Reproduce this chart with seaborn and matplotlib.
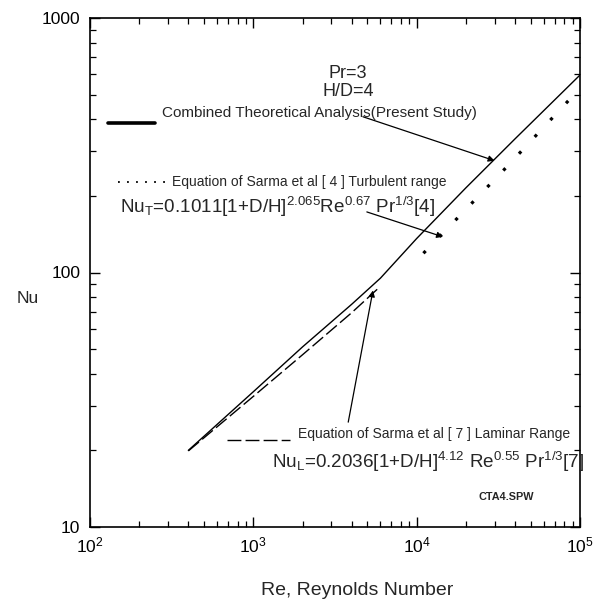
import matplotlib
matplotlib.use("Agg")
import matplotlib.pyplot as plt
from matplotlib.lines import Line2D
import seaborn as sns
import pandas as pd

# Combined theoretical analysis (present study)
re_combined = [400, 1000, 2000, 4000, 6000, 10000, 20000, 40000, 100000]
nu_combined = [20.0, 34.0, 51, 75, 95, 136, 215, 335, 597]

# Sarma et al [7], laminar range
re_laminar = [400, 1000, 2000, 4000, 5800]
nu_laminar = [19.9, 32.6, 47.5, 69.5, 86.5]

# Sarma et al [4], turbulent range
re_turbulent = [11000, 20000, 35000, 88000]
nu_turbulent = [119, 177, 257, 485]

x_ticks = [1e2, 1e3, 1e4, 1e5]
y_ticks = [10, 100, 1000]
y_tick_labels = ["10", "100", "1000"]

sns.set_style("ticks")
plt.rcParams["font.family"] = ["Liberation Sans", "DejaVu Sans"]
plt.rcParams["mathtext.fontset"] = "custom"
plt.rcParams["mathtext.rm"] = "Liberation Sans"
plt.rcParams["mathtext.it"] = "Liberation Sans:italic"
plt.rcParams["mathtext.bf"] = "Liberation Sans:bold"
plt.rcParams["mathtext.default"] = "regular"

fig = plt.figure(figsize=(6.07, 6.05), dpi=100)
ax = fig.add_axes([90 / 607, 1 - 527 / 605, 490 / 607, 509 / 605])

df_c = pd.DataFrame({"Re": re_combined, "Nu": nu_combined})
df_l = pd.DataFrame({"Re": re_laminar, "Nu": nu_laminar})
df_t = pd.DataFrame({"Re": re_turbulent, "Nu": nu_turbulent})

sns.lineplot(data=df_c, x="Re", y="Nu", ax=ax, color="black", lw=1.0, sort=False)
sns.lineplot(data=df_l, x="Re", y="Nu", ax=ax, color="black", lw=1.0, sort=False,
             linestyle=(0, (10, 3)))
sns.lineplot(data=df_t, x="Re", y="Nu", ax=ax, color="black", lw=2.3, sort=False,
             linestyle=(0, (1, 6.2)))

ax.set_xscale("log")
ax.set_yscale("log")
ax.set_xlim(1e2, 1e5)
ax.set_ylim(10, 1000)
ax.set_xticks(x_ticks)
ax.set_yticks(y_ticks)
ax.set_yticklabels(y_tick_labels)

ax.tick_params(which="both", direction="in", top=True, right=True, colors="black",
               labelsize=12.5)
ax.tick_params(which="major", length=7, width=1.0, pad=7)
ax.tick_params(which="minor", length=4, width=0.9)
ax.tick_params(axis="x", which="major", pad=6)
ax.yaxis.set_minor_formatter(matplotlib.ticker.NullFormatter())
ax.xaxis.set_minor_formatter(matplotlib.ticker.NullFormatter())
for s in ax.spines.values():
    s.set_linewidth(1.2)
    s.set_color("black")

ax.set_xlabel("Re, Reynolds Number", fontsize=14)
ax.xaxis.set_label_coords(0.545, -0.108)
ax.set_ylabel("Nu", fontsize=12.5, rotation=0, va="center")
ax.yaxis.set_label_coords(-0.127, 0.448)

tr = ax.transAxes
ax.text(0.527, 0.891, "Pr=3", transform=tr, ha="center", va="center", fontsize=13)
ax.text(0.527, 0.856, "H/D=4", transform=tr, ha="center", va="center", fontsize=13)

# legend-style samples with their captions
ax.add_line(Line2D([0.037, 0.133], [0.794, 0.794], transform=tr, color="black", lw=2.6))
ax.text(0.147, 0.813, "Combined Theoretical Analysis(Present Study)", transform=tr,
        ha="left", va="center", fontsize=11)

ax.add_line(Line2D([0.057, 0.155], [0.678, 0.678], transform=tr, color="black", lw=1.3,
                   linestyle=(0, (1, 4))))
ax.text(0.167, 0.678, "Equation of Sarma et al [ 4 ] Turbulent range", transform=tr,
        ha="left", va="center", fontsize=10)
ax.text(0.061, 0.617, r"$Nu_T$=0.1011[1+D/H]$^{2.065}$Re$^{0.67}$ Pr$^{1/3}$[4]",
        transform=tr, ha="left", va="baseline", fontsize=13.6)

ax.add_line(Line2D([0.280, 0.408], [0.171, 0.171], transform=tr, color="black", lw=1.0,
                   linestyle=(0, (10, 3))))
ax.text(0.424, 0.183, "Equation of Sarma et al [ 7 ] Laminar Range", transform=tr,
        ha="left", va="center", fontsize=10)
ax.text(0.371, 0.116, r"$Nu_L$=0.2036[1+D/H]$^{4.12}$ Re$^{0.55}$ Pr$^{1/3}$[7]",
        transform=tr, ha="left", va="baseline", fontsize=13.6)

ax.text(0.792, 0.059, "CTA4.SPW", transform=tr, ha="left", va="center", fontsize=7.8,
        fontweight="bold")

arrow = dict(arrowstyle="-|>", color="black", lw=0.9, mutation_scale=9,
             shrinkA=0, shrinkB=0)
ax.annotate("", xy=(3.0e4, 275), xycoords="data", xytext=(0.557, 0.806),
            textcoords="axes fraction", arrowprops=arrow)
ax.annotate("", xy=(1.45e4, 138), xycoords="data", xytext=(0.565, 0.619),
            textcoords="axes fraction", arrowprops=arrow)
ax.annotate("", xy=(5400, 85), xycoords="data", xytext=(0.527, 0.206),
            textcoords="axes fraction", arrowprops=arrow)

fig.savefig("out.png", dpi=100, facecolor="white")
